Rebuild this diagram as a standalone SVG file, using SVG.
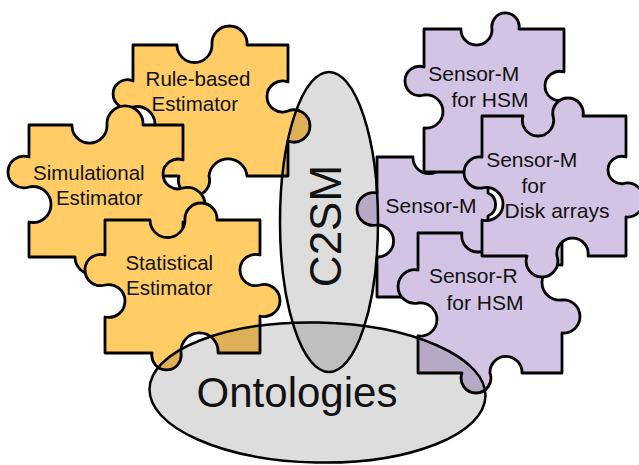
<svg xmlns="http://www.w3.org/2000/svg" width="639" height="465" viewBox="0 0 639 465">
  <style>
    .piece { stroke: #000; stroke-width: 2.8; stroke-linejoin: round; }
    .est { fill: #FFCC66; }
    .sen { fill: #D3C3E4; }
    .set { fill: #000; fill-opacity: 0.135; stroke: #000; stroke-width: 2.5; }
    .lbl { font-family: "Liberation Sans", Arial, sans-serif; fill: #111; text-anchor: middle; }
    .est-t { font-size: 20.5px; }
    .sen-t { font-size: 21px; }
  </style>
  <rect width="639" height="465" fill="#fff"/>

  <!-- estimator pieces (orange) -->
  <g id="rule-based-estimator">
    <path class="piece est" d="M133,45 H177 A17.5,17.5 0 0 0 212,45 A17.56,17.56 0 1 1 247,45 H288 V82 A15.51,15.51 0 1 0 288,111 A16.11,16.11 0 1 1 288,141 V176 H247 A19.1,19.1 0 0 0 209,176 A15.6,15.6 0 1 1 179,176 H133 V142 A17.96,17.96 0 1 0 133,107 A14.2,14.2 0 1 1 133,81 Z"/>
    <text class="lbl est-t" x="198" y="86">Rule-based</text>
    <text class="lbl est-t" x="194.8" y="111">Estimator</text>
  </g>
  <g id="simulational-estimator">
    <path class="piece est" d="M29,125 H72 A17.51,17.51 0 1 0 107,125 A18.03,18.03 0 1 1 143,125 H183 V160 A14.9,14.9 0 1 0 183,188 A17.57,17.57 0 1 1 183,222 V257 H145 A17.51,17.51 0 1 0 110,257 A17.5,17.5 0 0 1 75,257 H29 V222 A17.96,17.96 0 1 0 29,187 A15.86,15.86 0 1 1 29,157 Z"/>
    <text class="lbl est-t" x="88.8" y="180">Simulational</text>
    <text class="lbl est-t" x="99.2" y="205">Estimator</text>
  </g>
  <g id="statistical-estimator">
    <path class="piece est" d="M105,220 H150 A17.5,17.5 0 0 0 185,220 A16.03,16.03 0 1 1 217,220 H260 V255 A15.63,15.63 0 1 0 260,285 A16,16 0 1 1 260,316 V353 H218 A18.56,18.56 0 1 0 181,353 A14.68,14.68 0 1 1 152,353 H105 V317 A16.4,16.4 0 1 0 105,285 A15.63,15.63 0 1 1 105,255 Z"/>
    <text class="lbl est-t" x="169.3" y="270">Statistical</text>
    <text class="lbl est-t" x="169.3" y="294.5">Estimator</text>
  </g>

  <!-- sensor pieces (lilac) -->
  <g id="sensor-m">
    <path class="piece sen" d="M377,157 H413 A16.01,16.01 0 1 0 445,157 A16.1,16.1 0 1 1 477,157 H488 V193 A12.5,12.5 0 0 1 488,216 V297 H377 V257 A16.01,16.01 0 1 0 377,225 A16.4,16.4 0 1 1 377,193 Z"/>
    <text class="lbl sen-t" x="431" y="213">Sensor-M</text>
  </g>
  <g id="sensor-m-hsm">
    <path class="piece sen" d="M424,29 H461 A15.51,15.51 0 1 0 492,29 A13.7,13.7 0 1 1 519,29 H564 V72 A14.66,14.66 0 1 0 564,100 A15.42,15.42 0 1 1 564,130 V172 H545 A15.12,15.12 0 1 0 515,172 A15.25,15.25 0 1 1 485,172 H424 V128 A16.66,16.66 0 1 0 424,95 A14.66,14.66 0 1 1 424,67 Z"/>
    <text class="lbl sen-t" x="473.8" y="81">Sensor-M</text>
    <text class="lbl sen-t" x="490" y="106.7">for HSM</text>
  </g>
  <g id="sensor-r-hsm">
    <path class="piece sen" d="M418,233 H462 A16.24,16.24 0 1 0 494,233 A16.1,16.1 0 1 1 526,233 H562 V265 A17.66,17.66 0 1 0 562,300 A16.56,16.56 0 1 1 562,333 V373 H522 A16.01,16.01 0 1 0 490,373 A14.9,14.9 0 1 1 462,373 H418 V336 A16.66,16.66 0 1 0 418,303 A16.8,16.8 0 1 1 418,270 Z"/>
    <text class="lbl sen-t" x="473.3" y="283.3">Sensor-R</text>
    <text class="lbl sen-t" x="485" y="310">for HSM</text>
  </g>
  <g id="sensor-m-disk">
    <path class="piece sen" d="M482,116 H523 A15.63,15.63 0 1 0 553,116 A15.25,15.25 0 1 1 583,116 H626 V157 A13.69,13.69 0 1 0 626,183 A17.03,17.03 0 1 1 626,217 V256 H588 A15.67,15.67 0 1 0 557,256 A15.86,15.86 0 1 1 527,256 H482 V220 A16.6,16.6 0 1 0 482,188 A15.67,15.67 0 1 1 482,157 Z"/>
    <text class="lbl sen-t" x="531.7" y="167.3">Sensor-M</text>
    <text class="lbl sen-t" x="533.7" y="193.3">for</text>
    <text class="lbl sen-t" x="557" y="218.3">Disk arrays</text>
  </g>

  <!-- translucent framework ellipses -->
  <g id="c2sm">
    <ellipse class="set" cx="329" cy="222" rx="49" ry="150"/>
    <text class="lbl" font-size="44" transform="translate(341,226) rotate(-90)">C2SM</text>
  </g>
  <g id="ontologies">
    <ellipse class="set" cx="317.5" cy="392.5" rx="168" ry="70" transform="rotate(1.2 317.5 392.5)"/>
    <text class="lbl" font-size="42" x="297" y="407">Ontologies</text>
  </g>
</svg>
